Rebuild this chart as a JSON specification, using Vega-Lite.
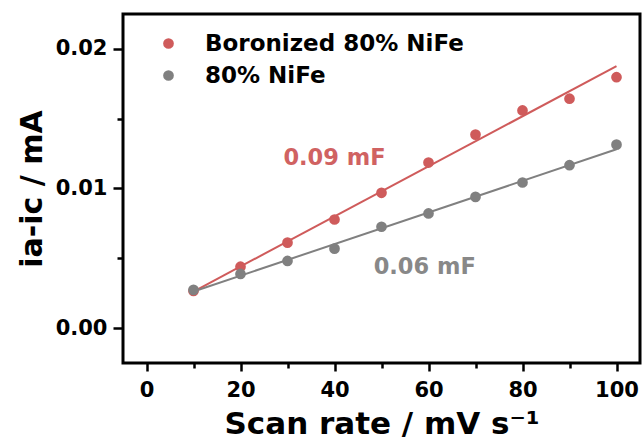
{
  "$schema": "https://vega.github.io/schema/vega-lite/v6.json",
  "width": 517,
  "height": 349,
  "autosize": "none",
  "padding": {"left": 123, "top": 14, "right": 3, "bottom": 78},
  "background": "white",
  "config": {
    "view": {"stroke": "black", "strokeWidth": 3},
    "font": "DejaVu Sans",
    "axis": {
      "domain": false,
      "grid": false,
      "tickColor": "black",
      "tickWidth": 2.5,
      "labelFont": "DejaVu Sans",
      "labelFontWeight": "bold",
      "labelFontSize": 21,
      "labelColor": "black",
      "titleFont": "DejaVu Sans",
      "titleFontWeight": "bold",
      "titleColor": "black"
    }
  },
  "datasets": {
    "pts": [
      {"rate": 10, "val": 0.00266, "series": "Boronized 80% NiFe"},
      {"rate": 20, "val": 0.0044, "series": "Boronized 80% NiFe"},
      {"rate": 30, "val": 0.00612, "series": "Boronized 80% NiFe"},
      {"rate": 40, "val": 0.00778, "series": "Boronized 80% NiFe"},
      {"rate": 50, "val": 0.00969, "series": "Boronized 80% NiFe"},
      {"rate": 60, "val": 0.01186, "series": "Boronized 80% NiFe"},
      {"rate": 70, "val": 0.01386, "series": "Boronized 80% NiFe"},
      {"rate": 80, "val": 0.01559, "series": "Boronized 80% NiFe"},
      {"rate": 90, "val": 0.01643, "series": "Boronized 80% NiFe"},
      {"rate": 100, "val": 0.01797, "series": "Boronized 80% NiFe"},
      {"rate": 10, "val": 0.00274, "series": "80% NiFe"},
      {"rate": 20, "val": 0.00388, "series": "80% NiFe"},
      {"rate": 30, "val": 0.00481, "series": "80% NiFe"},
      {"rate": 40, "val": 0.00569, "series": "80% NiFe"},
      {"rate": 50, "val": 0.00726, "series": "80% NiFe"},
      {"rate": 60, "val": 0.00821, "series": "80% NiFe"},
      {"rate": 70, "val": 0.0094, "series": "80% NiFe"},
      {"rate": 80, "val": 0.01043, "series": "80% NiFe"},
      {"rate": 90, "val": 0.01167, "series": "80% NiFe"},
      {"rate": 100, "val": 0.01314, "series": "80% NiFe"}
    ],
    "fitB": [
      {"rate": 10, "val": 0.00262},
      {"rate": 100, "val": 0.01876}
    ],
    "fitN": [
      {"rate": 10, "val": 0.00262},
      {"rate": 100, "val": 0.01281}
    ],
    "noteB": [{"rate": 40, "val": 0.01216, "label": "0.09 mF"}],
    "noteN": [{"rate": 59.2, "val": 0.0044, "label": "0.06 mF"}]
  },
  "layer": [
    {
      "data": {"name": "fitB"},
      "mark": {"type": "line", "strokeWidth": 2, "color": "#CF5B5B"},
      "encoding": {
        "x": {"field": "rate", "type": "quantitative",
          "scale": {"domain": [-5, 105], "nice": false, "zero": false},
          "axis": {
            "values": [0, 10, 20, 30, 40, 50, 60, 70, 80, 90, 100],
            "labelExpr": "datum.value % 20 === 0 ? datum.label : ''",
            "tickSize": {"condition": {"test": "datum.value % 20 === 0", "value": 8}, "value": 5},
            "labelPadding": 8,
            "title": "Scan rate / mV s⁻¹",
            "titleFontSize": 31,
            "titlePadding": 9
          }},
        "y": {"field": "val", "type": "quantitative",
          "scale": {"domain": [-0.0025, 0.0225], "nice": false, "zero": false},
          "axis": {
            "values": [0, 0.005, 0.01, 0.015, 0.02],
            "labelExpr": "round(datum.value*200) % 2 === 0 ? format(datum.value, '.2f') : ''",
            "tickSize": {"condition": {"test": "round(datum.value*200) % 2 === 0", "value": 10}, "value": 6},
            "labelPadding": 6,
            "title": "ia-ic / mA",
            "titleFontSize": 30,
            "titlePadding": 8
          }}
      }
    },
    {
      "data": {"name": "fitN"},
      "mark": {"type": "line", "strokeWidth": 2, "color": "#808080"},
      "encoding": {
        "x": {"field": "rate", "type": "quantitative"},
        "y": {"field": "val", "type": "quantitative"}
      }
    },
    {
      "data": {"name": "pts"},
      "mark": {"type": "point", "filled": true, "opacity": 1, "size": 115, "shape": "circle"},
      "encoding": {
        "x": {"field": "rate", "type": "quantitative"},
        "y": {"field": "val", "type": "quantitative"},
        "color": {"field": "series", "type": "nominal",
          "scale": {"domain": ["Boronized 80% NiFe", "80% NiFe"], "range": ["#CF5B5B", "#808080"]},
          "legend": {
            "orient": "none",
            "legendX": 34,
            "legendY": 18,
            "title": null,
            "symbolSize": 115,
            "symbolType": "circle",
            "labelFont": "DejaVu Sans",
            "labelFontWeight": "bold",
            "labelFontSize": 23,
            "labelColor": "black",
            "labelLimit": 500,
            "labelOffset": 25,
            "rowPadding": 8,
            "padding": 0
          }}
      }
    },
    {
      "data": {"name": "noteB"},
      "mark": {"type": "text", "font": "DejaVu Sans", "fontWeight": "bold", "fontSize": 22.5, "align": "center", "baseline": "middle", "color": "#D06262"},
      "encoding": {
        "x": {"field": "rate", "type": "quantitative"},
        "y": {"field": "val", "type": "quantitative"},
        "text": {"field": "label"}
      }
    },
    {
      "data": {"name": "noteN"},
      "mark": {"type": "text", "font": "DejaVu Sans", "fontWeight": "bold", "fontSize": 22.5, "align": "center", "baseline": "middle", "color": "#888888"},
      "encoding": {
        "x": {"field": "rate", "type": "quantitative"},
        "y": {"field": "val", "type": "quantitative"},
        "text": {"field": "label"}
      }
    }
  ]
}
